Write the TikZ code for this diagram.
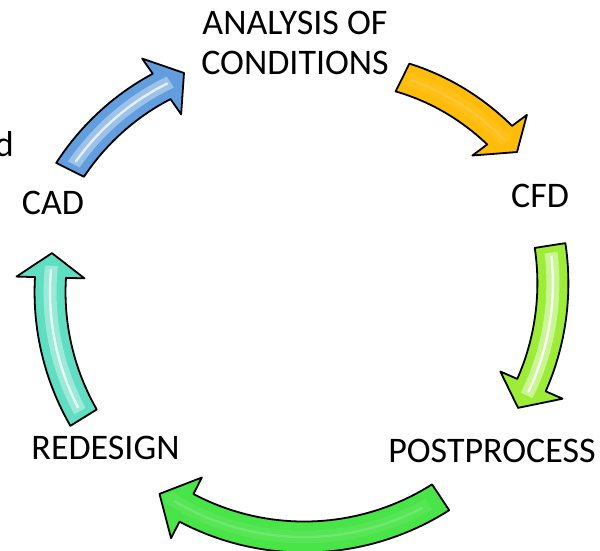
\documentclass[tikz,border=0pt]{standalone}
\usepackage{fontspec}
\setmainfont{Carlito}
\definecolor{cadblue}{RGB}{98,158,222}
\definecolor{anaorange}{RGB}{255,188,10}
\definecolor{cfdlime}{RGB}{156,236,56}
\definecolor{postgreen}{RGB}{72,228,72}
\definecolor{redteal}{RGB}{96,222,194}
\begin{document}
\begin{tikzpicture}[x=1pt,y=1pt,
  lbl/.style={font=\fontsize{36}{40}\selectfont, inner sep=0pt, align=center, text=black},
  rim/.style={draw=black, line width=1.8pt, line join=round}]
\useasboundingbox (0,0) rectangle (600,551);
\clip (0,0) rectangle (600,551);

% Curved block arrow on the cycle around the centre (300,267).
% #1 colour, #2 tail angle, #3 head-base angle, #4 tip angle,
% #5 tail radius, #6 head-base radius, #7 tip radius, #8 gloss strength
\newcommand\cyclearrow[8]{%
  \begin{scope}[shift={(300,267)}]
    \filldraw[rim, fill=#1]
      plot[domain=0:1, samples=40, variable=\pp] ({#2+(#3-#2)*\pp}:{#5+(#6-#5)*\pp+15.5})
      -- ({#3}:{#6+34}) -- ({#4}:{#7}) -- ({#3}:{#6-34})
      -- plot[domain=0:1, samples=40, variable=\pp] ({#3+(#2-#3)*\pp}:{#6+(#5-#6)*\pp-15.5})
      -- cycle;
    % lighter core of the band
    \fill[#1!50!white, opacity=#8]
      plot[domain=0.05:1.08, samples=40, variable=\pp] ({#2+(#3-#2)*\pp}:{#5+(#6-#5)*\pp+6.5})
      -- plot[domain=-1.08:-0.05, samples=40, variable=\pp] ({#2-(#3-#2)*\pp}:{#5-(#6-#5)*\pp-6.5})
      -- cycle;
    % glossy streak along the middle
    \draw[white, line width=2.4pt, line cap=round, opacity=#8]
      plot[domain=0.08:1.05, samples=40, variable=\pp] ({#2+(#3-#2)*\pp}:{#5+(#6-#5)*\pp});
  \end{scope}}

% arrows, clockwise round the cycle
\cyclearrow{cadblue}{153.6}{125.0}{118.8}{256.7}{241.2}{240.8}{0.75}
\cyclearrow{anaorange}{63.6}{36.7}{31.3}{230.5}{249}{254}{0.12}
\cyclearrow{cfdlime}{8.75}{-23.6}{-29.6}{253}{252.6}{250.8}{0.9}
\cyclearrow{postgreen}{-56.6}{-116.9}{-123.8}{255.5}{251}{252.6}{0.15}
\cyclearrow{redteal}{211.7}{178.5}{172.9}{254.4}{249.6}{250}{0.75}

% stage labels
\node[lbl, anchor=base] (ana) at (295,476) {ANALYSIS OF\\CONDITIONS};
\node[lbl, anchor=base] (cfd) at (540,343) {CFD};
\node[lbl, anchor=base] (post) at (492,88) {POSTPROCESS};
\node[lbl, anchor=base] (rede) at (105.5,91) {REDESIGN};
\node[lbl, anchor=base] (cad) at (53,336) {CAD};
\node[lbl, anchor=base east] (edge) at (14,394) {d};
\end{tikzpicture}
\end{document}
